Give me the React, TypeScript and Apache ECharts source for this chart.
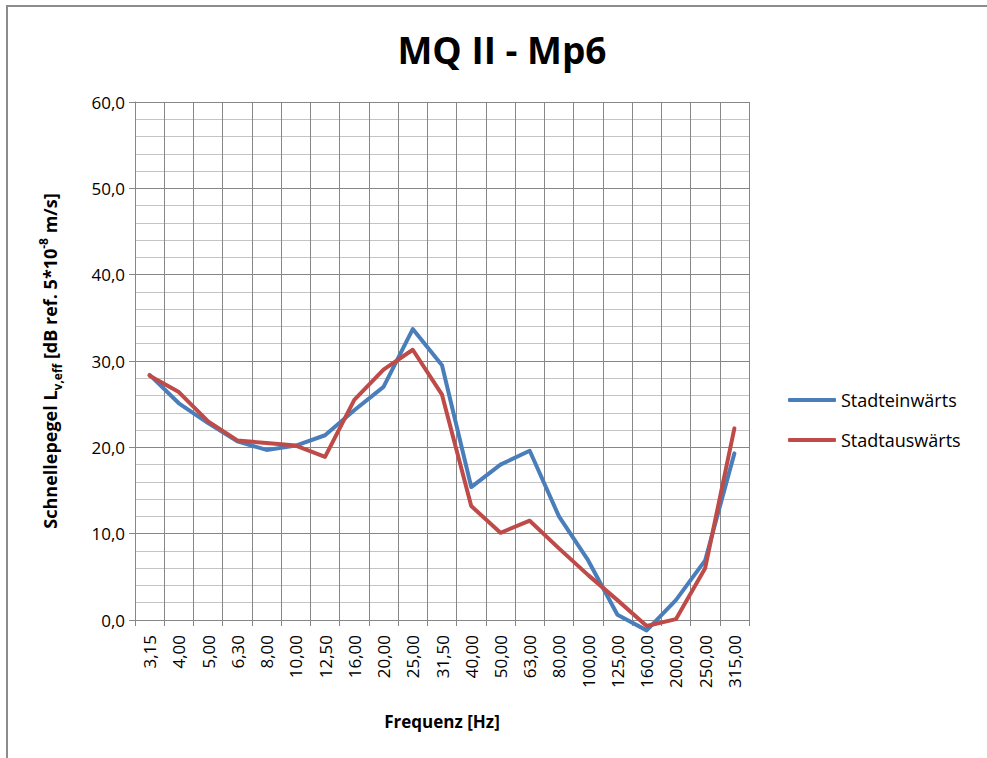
import React, { useEffect, useRef } from "react";
import * as echarts from "echarts";

// Third-octave band centre frequencies
const frequencies = [
  "3,15", "4,00", "5,00", "6,30", "8,00", "10,00", "12,50", "16,00", "20,00", "25,00",
  "31,50", "40,00", "50,00", "63,00", "80,00", "100,00", "125,00", "160,00", "200,00", "250,00", "315,00",
];

// Velocity level in dB, inbound direction
const stadteinwaerts = [
  28.4, 25.1, 22.8, 20.7, 19.7, 20.2, 21.4, 24.3, 27.0, 33.7,
  29.5, 15.4, 18.0, 19.6, 12.0, 6.9, 0.6, -1.2, 2.3, 6.9, 19.3,
];

// Velocity level in dB, outbound direction
const stadtauswaerts = [
  28.3, 26.4, 23.0, 20.8, 20.5, 20.2, 18.9, 25.5, 29.0, 31.3,
  26.1, 13.2, 10.1, 11.5, 8.3, 5.2, 2.3, -0.7, 0.1, 6.0, 22.2,
];

const seriesNames = ["Stadteinwärts", "Stadtauswärts"];
const seriesColors = ["#4a7ebb", "#be4b48"];

const FONT = "'Open Sans', sans-serif";
const MAJOR = "#878787";
const MINOR = "#c4c4c4";

export default function App() {
  const ref = useRef<HTMLDivElement>(null);

  useEffect(() => {
    if (!ref.current) return;
    const chart = echarts.init(ref.current, null, { renderer: "svg" });
    const fmt = (v: number) => v.toFixed(1).replace(".", ",");

    chart.setOption({
      animation: false,
      backgroundColor: "#ffffff",
      textStyle: { fontFamily: FONT },
      graphic: [
        {
          type: "rect",
          shape: { x: 7, y: 6, width: 1000, height: 800 },
          style: { fill: "none", stroke: "#8c8c8c", lineWidth: 2 },
          silent: true,
        },
      ],
      title: {
        text: "MQ II - Mp6",
        left: 497,
        textAlign: "center",
        top: 26,
        textStyle: { fontFamily: FONT, fontSize: 37, fontWeight: "bold", color: "#000" },
      },
      legend: {
        orient: "vertical",
        left: 783,
        top: 386,
        itemWidth: 48,
        itemHeight: 4,
        itemGap: 22,
        icon: "roundRect",
        data: seriesNames,
        textStyle: { fontFamily: FONT, fontSize: 18, color: "#000" },
      },
      grid: { left: 135, right: 238, top: 102, bottom: 138 },
      xAxis: {
        type: "category",
        data: frequencies,
        boundaryGap: true,
        name: "Frequenz [Hz]",
        nameLocation: "middle",
        nameGap: 93,
        nameTextStyle: { fontFamily: FONT, fontSize: 17, fontWeight: "bold", color: "#000" },
        axisLine: { show: true, lineStyle: { color: MAJOR, width: 1 } },
        axisTick: { show: true, length: 6, lineStyle: { color: MAJOR } },
        axisLabel: {
          rotate: 90,
          margin: 15,
          interval: 0,
          fontFamily: FONT,
          fontSize: 17,
          color: "#000",
        },
        splitLine: { show: true, lineStyle: { color: MAJOR, width: 1 } },
      },
      yAxis: {
        type: "value",
        min: 0,
        max: 60,
        interval: 10,
        name:
          "{m|Schnellepegel L}{s|v,eff}{m| [dB ref. 5*10}{p|-8}{m| m/s]}",
        nameLocation: "middle",
        nameGap: 72,
        nameRotate: 90,
        nameTextStyle: {
          rich: {
            m: { fontFamily: FONT, fontSize: 18, fontWeight: "bold", color: "#000", lineHeight: 26 },
            s: { fontFamily: FONT, fontSize: 12, fontWeight: "bold", color: "#000", lineHeight: 12, verticalAlign: "bottom" },
            p: { fontFamily: FONT, fontSize: 12, fontWeight: "bold", color: "#000", lineHeight: 12, verticalAlign: "top" },
          },
        },
        axisLine: { show: true, lineStyle: { color: MAJOR, width: 1 } },
        axisTick: { show: true, length: 6, lineStyle: { color: MAJOR } },
        axisLabel: {
          margin: 10,
          formatter: fmt,
          fontFamily: FONT,
          fontSize: 17,
          color: "#000",
        },
        splitLine: { show: true, lineStyle: { color: MAJOR, width: 1 } },
        minorTick: { show: false, splitNumber: 5 },
        minorSplitLine: { show: true, lineStyle: { color: MINOR, width: 1 } },
      },
      series: [
        {
          name: seriesNames[0],
          type: "line",
          data: stadteinwaerts,
          symbol: "none",
          clip: false,
          color: seriesColors[0],
          lineStyle: { width: 4, color: seriesColors[0], join: "round", cap: "round" },
        },
        {
          name: seriesNames[1],
          type: "line",
          data: stadtauswaerts,
          symbol: "none",
          clip: false,
          color: seriesColors[1],
          lineStyle: { width: 4, color: seriesColors[1], join: "round", cap: "round" },
        },
      ],
    });

    return () => chart.dispose();
  }, []);

  return (
    <div
      ref={ref}
      style={{ position: "fixed", left: 0, top: 0, width: 987, height: 758 }}
    />
  );
}
